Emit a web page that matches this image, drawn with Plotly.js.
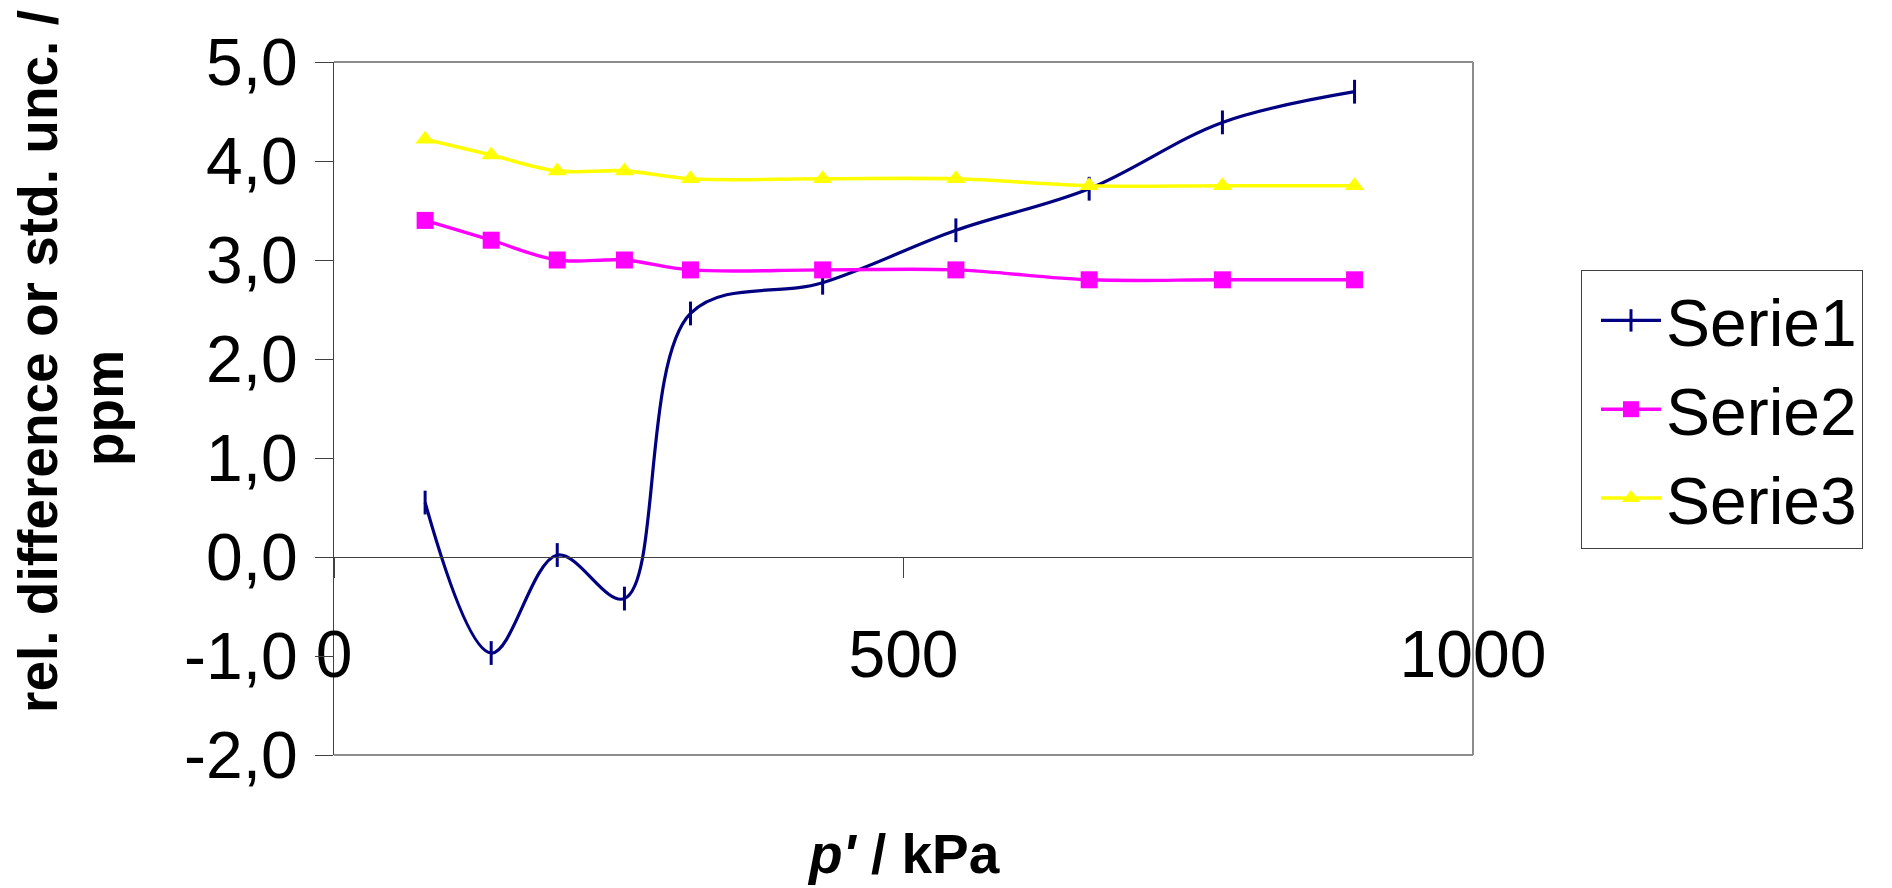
<!DOCTYPE html>
<html><head><meta charset="utf-8">
<script src="https://cdn.plot.ly/plotly-3.0.1.min.js"></script>
<style>html,body{margin:0;padding:0;background:#fff}#chart{width:1892px;height:888px}</style>
</head><body><div id="chart"></div>
<script>
// Data
const pressure = [80, 138, 196, 255, 313, 429, 546, 663, 780, 896];
const serie1 = [0.55, -0.97, 0.02, -0.42, 2.46, 2.77, 3.30, 3.72, 4.39, 4.70];
const serie2 = [3.40, 3.20, 3.00, 3.00, 2.90, 2.90, 2.90, 2.80, 2.80, 2.80];
const serie3 = [4.22, 4.06, 3.90, 3.90, 3.82, 3.82, 3.82, 3.75, 3.75, 3.75];
const seriesNames = ['Serie1', 'Serie2', 'Serie3'];
const yTickVals = [-2, -1, 0, 1, 2, 3, 4, 5];
const yTickText = ['-2,0', '-1,0', '0,0', '1,0', '2,0', '3,0', '4,0', '5,0'];
const xTickVals = [0, 500, 1000];
const xTickText = ['0', '500', '1000'];
const yTitleLine1 = 'rel. difference or std. unc. /';
const yTitleLine2 = 'ppm';
const xTitle = "<i>p'</i> / kPa";

const FONT = 'Liberation Sans, Arial, Helvetica, sans-serif';
const W = 1892, H = 888;
const M = {l: 334, r: 419, t: 62, b: 133};
const PW = W - M.l - M.r, PH = H - M.t - M.b;
const px2x = x => (x - M.l) / PW;
const py2y = y => 1 - (y - M.t) / PH;

const traces = [
  {
    x: pressure, y: serie1, name: seriesNames[0], type: 'scatter', mode: 'lines+markers',
    line: {color: '#000080', width: 3.2, shape: 'spline', smoothing: 1},
    marker: {symbol: 'line-ns', size: 17, color: '#000080', line: {color: '#000080', width: 3}}
  },
  {
    x: pressure, y: serie2, name: seriesNames[1], type: 'scatter', mode: 'lines+markers',
    line: {color: '#FF00FF', width: 3.4, shape: 'spline', smoothing: 1},
    marker: {symbol: 'square', size: 17, color: '#FF00FF', line: {width: 0}}
  },
  {
    x: pressure, y: serie3, name: seriesNames[2], type: 'scatter', mode: 'lines+markers',
    line: {color: '#FFFF00', width: 3.6, shape: 'spline', smoothing: 1},
    marker: {symbol: 'triangle-up', size: 17, color: '#FFFF00', line: {width: 0}}
  }
];

const layout = {
  width: W, height: H,
  margin: {l: M.l, r: M.r, t: M.t, b: M.b, pad: 0},
  paper_bgcolor: '#ffffff', plot_bgcolor: '#ffffff',
  font: {family: FONT, color: '#000000', size: 66},
  showlegend: true,
  xaxis: {
    range: [0, 1000], anchor: 'free', position: 2 / 7,
    tickmode: 'array', tickvals: xTickVals, ticktext: xTickText,
    ticks: 'outside', ticklen: 20, tickwidth: 1, tickcolor: '#404040',
    showline: true, linecolor: '#404040', linewidth: 1,
    showgrid: false, zeroline: false,
    tickfont: {family: FONT, size: 66, color: '#000000'},
    ticklabelstandoff: 20
  },
  yaxis: {
    range: [-2, 5],
    tickmode: 'array', tickvals: yTickVals, ticktext: yTickText,
    ticks: 'outside', ticklen: 18, tickwidth: 1, tickcolor: '#404040',
    showline: true, linecolor: '#404040', linewidth: 1,
    showgrid: false, zeroline: false,
    tickfont: {family: FONT, size: 66, color: '#000000'},
    ticklabelstandoff: 4
  },
  legend: {
    x: px2x(1581), y: py2y(270), xanchor: 'left', yanchor: 'top',
    bgcolor: '#ffffff', bordercolor: '#404040', borderwidth: 1,
    font: {family: FONT, size: 66, color: '#000000'},
    itemwidth: 60, indentation: 14, entrywidth: 210, entrywidthmode: 'pixels'
  },
  shapes: [
    {type: 'line', xref: 'paper', yref: 'paper', x0: 0, x1: 1, y0: 1, y1: 1, line: {color: '#8c8c8c', width: 2}},
    {type: 'line', xref: 'paper', yref: 'paper', x0: 1, x1: 1, y0: 0, y1: 1, line: {color: '#8c8c8c', width: 2}},
    {type: 'line', xref: 'paper', yref: 'paper', x0: 0, x1: 1, y0: 0, y1: 0, line: {color: '#8c8c8c', width: 2}}
  ],
  annotations: [
    {text: '<b>' + yTitleLine1 + '</b>', xref: 'paper', yref: 'paper', x: px2x(38), y: py2y(362),
     xanchor: 'center', yanchor: 'middle', textangle: -90, showarrow: false,
     font: {family: FONT, size: 55, color: '#000000'}},
    {text: '<b>' + yTitleLine2 + '</b>', xref: 'paper', yref: 'paper', x: px2x(104), y: py2y(408),
     xanchor: 'center', yanchor: 'middle', textangle: -90, showarrow: false,
     font: {family: FONT, size: 55, color: '#000000'}},
    {text: '<b>' + xTitle + '</b>', xref: 'paper', yref: 'paper', x: px2x(903), y: py2y(854),
     xanchor: 'center', yanchor: 'middle', showarrow: false,
     font: {family: FONT, size: 55, color: '#000000'}}
  ]
};

Plotly.newPlot('chart', traces, layout, {displayModeBar: false, staticPlot: true});
</script>
</body></html>
